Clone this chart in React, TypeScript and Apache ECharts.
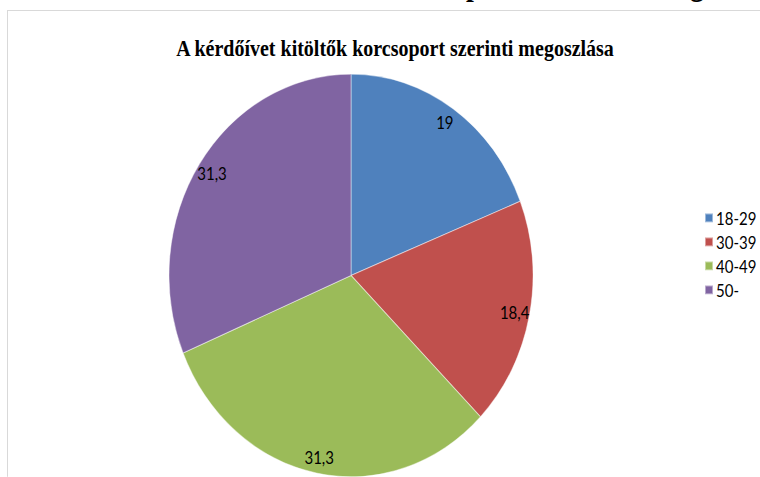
import React, { useEffect, useRef } from "react";
import * as echarts from "echarts";

// Age groups of the respondents and their share (%)
const categories = ["18-29", "30-39", "40-49", "50-"];
const shares = [19, 18.4, 31.3, 31.3];
const colors = ["#4F81BD", "#C0504D", "#9BBB59", "#8064A2"];
const chartTitle = "A kérdőívet kitöltők korcsoport szerinti megoszlása";

// The whole sheet is drawn slightly taller than wide
const STRETCH_Y = 1.106;
const W = 760;
const H = 431;

const fmt = (v: number) => String(v).replace(".", ",");

export default function App() {
  const ref = useRef<HTMLDivElement>(null);

  useEffect(() => {
    if (!ref.current) return;
    const chart = echarts.init(ref.current, null, { renderer: "svg" });
    const data = categories.map((name, i) => ({
      name,
      value: shares[i],
      itemStyle: { color: colors[i] },
    }));

    chart.setOption({
      animation: false,
      backgroundColor: "#ffffff",
      title: {
        text: chartTitle,
        left: 390,
        top: 29,
        textAlign: "center",
        textStyle: {
          fontFamily: "Liberation Serif",
          fontWeight: "bold",
          fontSize: 20,
          color: "#000000",
        },
      },
      legend: {
        orient: "vertical",
        left: 699,
        top: 184,
        icon: "rect",
        itemWidth: 8,
        itemHeight: 8,
        itemGap: 5.7,
        selectedMode: false,
        data: categories,
        textStyle: {
          fontFamily: "Lato",
          fontSize: 15,
          lineHeight: 16,
          color: "#000000",
          padding: [0, 0, 0, -2],
        },
      },
      graphic: [
        {
          type: "rect",
          silent: true,
          shape: { x: 7.5, y: 9.5, width: 800, height: 500 },
          style: { fill: "none", stroke: "#d9d9d9", lineWidth: 1 },
        },
        {
          type: "text",
          silent: true,
          x: 466,
          y: -28,
          style: {
            text: "p",
            fontFamily: "Liberation Serif",
            fontWeight: "bold",
            fontSize: 28,
            fill: "#000000",
          },
        },
        {
          type: "text",
          silent: true,
          x: 690,
          y: -28,
          style: {
            text: "g",
            fontFamily: "Liberation Serif",
            fontWeight: "bold",
            fontSize: 28,
            fill: "#000000",
          },
        },
      ],
      series: [
        {
          type: "pie",
          center: [351, 249],
          radius: [0, 182],
          startAngle: 90,
          clockwise: true,
          silent: true,
          label: { show: false },
          labelLine: { show: false },
          itemStyle: { borderColor: "rgba(255,255,255,0.45)", borderWidth: 1 },
          data,
        },
        {
          // ring carrying the value labels near the rim
          type: "pie",
          center: [351, 249],
          radius: [146, 182],
          startAngle: 90,
          clockwise: true,
          silent: true,
          itemStyle: { color: "rgba(0,0,0,0)", borderWidth: 0 },
          label: {
            show: true,
            position: "inside",
            formatter: (p: any) => fmt(p.value),
            fontFamily: "Lato",
            fontSize: 15,
            color: "#000000",
          },
          labelLine: { show: false },
          data: categories.map((name, i) => ({ name, value: shares[i] })),
        },
      ],
    });

    return () => chart.dispose();
  }, []);

  return (
    <div
      style={{
        position: "absolute",
        left: 0,
        top: 0,
        width: W,
        height: H,
        transform: `scaleY(${STRETCH_Y})`,
        transformOrigin: "0 0",
        background: "#ffffff",
      }}
    >
      <div ref={ref} style={{ width: W, height: H }} />
    </div>
  );
}
